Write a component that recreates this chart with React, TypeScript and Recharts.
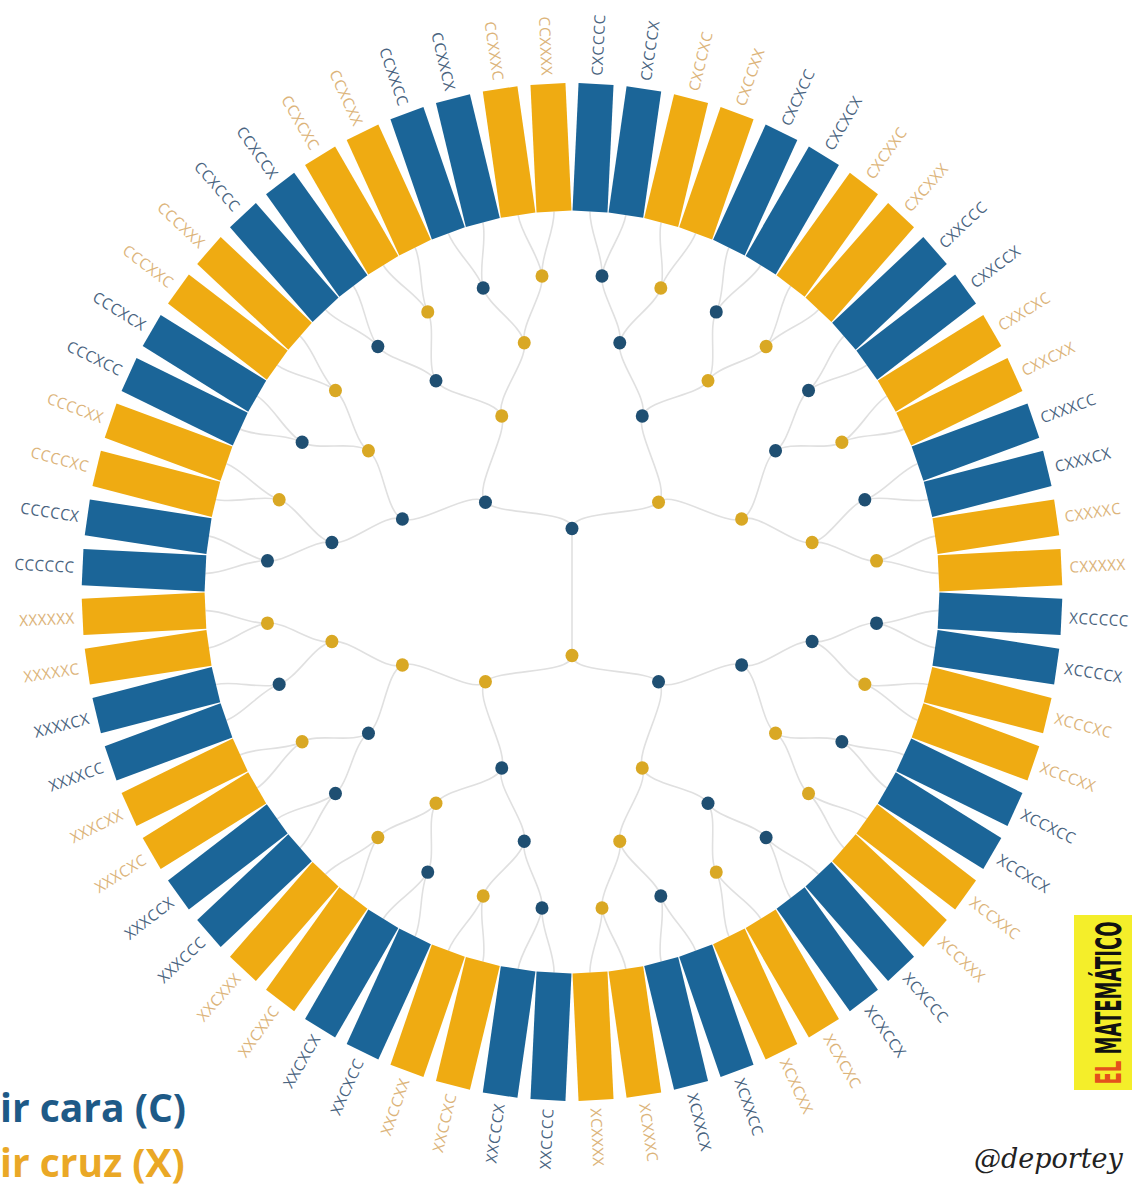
import { PieChart, Pie } from 'recharts'

// every outcome of six coin flips, in the order they run round the ring (clockwise from 9 o'clock)
const OUTCOMES = [
  'CCCCCC', 'CCCCCX', 'CCCCXC', 'CCCCXX', 'CCCXCC', 'CCCXCX', 'CCCXXC', 'CCCXXX',
  'CCXCCC', 'CCXCCX', 'CCXCXC', 'CCXCXX', 'CCXXCC', 'CCXXCX', 'CCXXXC', 'CCXXXX',
  'CXCCCC', 'CXCCCX', 'CXCCXC', 'CXCCXX', 'CXCXCC', 'CXCXCX', 'CXCXXC', 'CXCXXX',
  'CXXCCC', 'CXXCCX', 'CXXCXC', 'CXXCXX', 'CXXXCC', 'CXXXCX', 'CXXXXC', 'CXXXXX',
  'XCCCCC', 'XCCCCX', 'XCCCXC', 'XCCCXX', 'XCCXCC', 'XCCXCX', 'XCCXXC', 'XCCXXX',
  'XCXCCC', 'XCXCCX', 'XCXCXC', 'XCXCXX', 'XCXXCC', 'XCXXCX', 'XCXXXC', 'XCXXXX',
  'XXCCCC', 'XXCCCX', 'XXCCXC', 'XXCCXX', 'XXCXCC', 'XXCXCX', 'XXCXXC', 'XXCXXX',
  'XXXCCC', 'XXXCCX', 'XXXCXC', 'XXXCXX', 'XXXXCC', 'XXXXCX', 'XXXXXC', 'XXXXXX',
]
const TREE_DEPTHS = [1, 2, 3, 4, 5]
const LEGEND = ['ir cara (C)', 'ir cruz (X)']

const W = 1132
const H = 1189
const CX = 572
const CY = 592
const STEP = 61.2
const BAR_IN = 367
const BAR_OUT = 490
const BAR_W = 35
const RAD = Math.PI / 180

const BLUE = '#1b6598'
const GOLD = '#efab12'
const DOT_BLUE = '#1f4f72'
const DOT_GOLD = '#d9a824'
const LINK = '#e0e0e0'

const leafData = OUTCOMES.map((o) => ({ node: o, value: 1 }))
const treeData = TREE_DEPTHS.map((d) =>
  OUTCOMES.filter((_, i) => i % (OUTCOMES.length >> d) === 0).map((o) => ({ node: o.slice(0, d), value: 1 }))
)

const polar = (a: number, r: number) => [CX + r * Math.cos(a * RAD), CY - r * Math.sin(a * RAD)]

const pieBase = {
  cx: CX,
  cy: CY,
  dataKey: 'value',
  startAngle: 180,
  endAngle: -180,
  fill: 'transparent',
  stroke: 'none',
  labelLine: false,
  isAnimationActive: false,
}

// soft curved link from the parent node to this node
const renderLink = (depth: number) => (p: any) => {
  const r1 = depth === 6 ? BAR_IN : depth * STEP
  const r0 = (depth - 1) * STEP
  const a = p.midAngle
  if (depth === 1) {
    const [x, y] = polar(a, r1)
    return <line x1={CX} y1={CY} x2={x} y2={y} stroke={LINK} strokeWidth={1.6} />
  }
  const pa = p.index % 2 === 0 ? p.endAngle : p.startAngle
  const dr = r1 - r0
  const [x0, y0] = polar(pa, r0)
  const [c1x, c1y] = polar(pa, r0 + dr * 0.3)
  const [c2x, c2y] = polar(a, r1 - dr * 0.3)
  const [x1, y1] = polar(a, r1)
  return (
    <path
      d={`M${x0},${y0}C${c1x},${c1y} ${c2x},${c2y} ${x1},${y1}`}
      fill="none"
      stroke={LINK}
      strokeWidth={1.6}
    />
  )
}

const renderDot = (depth: number) => (p: any) => {
  const node: string = p.payload?.node ?? treeData[depth - 1][p.index].node
  const [x, y] = polar(p.midAngle, depth * STEP)
  return <circle cx={x} cy={y} r={6.5} fill={node.endsWith('C') ? DOT_BLUE : DOT_GOLD} />
}

const renderBar = (p: any) => {
  const code = OUTCOMES[p.index]
  const isC = code[4] === 'C'
  const right = Math.cos(p.midAngle * RAD) >= 0
  return (
    <g transform={`translate(${CX},${CY}) rotate(${-p.midAngle})`}>
      <rect x={BAR_IN} y={-BAR_W / 2} width={BAR_OUT - BAR_IN} height={BAR_W} fill={isC ? BLUE : GOLD} />
      <text
        transform={right ? undefined : 'rotate(180)'}
        x={right ? BAR_OUT + 8 : -(BAR_OUT + 8)}
        y={0}
        textAnchor={right ? 'start' : 'end'}
        dominantBaseline="central"
        fontFamily="'Open Sans', sans-serif"
        fontSize={15}
        letterSpacing={0.6}
        fill={isC ? '#4a6480' : '#dcb47a'}
      >
        {code}
      </text>
    </g>
  )
}

export default function App() {
  return (
    <div style={{ position: 'absolute', left: 0, top: 0, width: W, height: H, background: '#fff', overflow: 'hidden' }}>
      <div
        style={{
          position: 'absolute',
          left: 0,
          top: 0,
          transform: 'scaleY(1.038)',
          transformOrigin: `${CX}px ${CY}px`,
        }}
      >
        <PieChart width={W} height={H} margin={{ top: 0, right: 0, bottom: 0, left: 0 }}>
          {[1, 2, 3, 4, 5, 6].map((d) => (
            <Pie
              key={`link-${d}`}
              {...pieBase}
              data={d === 6 ? leafData : treeData[d - 1]}
              innerRadius={0}
              outerRadius={d === 6 ? BAR_IN : d * STEP}
              label={renderLink(d)}
            />
          ))}
          {TREE_DEPTHS.map((d) => (
            <Pie
              key={`dot-${d}`}
              {...pieBase}
              data={treeData[d - 1]}
              innerRadius={0}
              outerRadius={d * STEP}
              label={renderDot(d)}
            />
          ))}
          <Pie {...pieBase} data={leafData} innerRadius={BAR_IN} outerRadius={BAR_OUT} label={renderBar} />
        </PieChart>
      </div>

      <svg width={W} height={H} style={{ position: 'absolute', left: 0, top: 0, pointerEvents: 'none' }}>
        <text x={0} y={1122} fontFamily="'Open Sans', sans-serif" fontWeight={700} fontSize={39} fill="#1e5a87">
          {LEGEND[0]}
        </text>
        <text x={0} y={1177} fontFamily="'Open Sans', sans-serif" fontWeight={700} fontSize={39} fill="#eaa826">
          {LEGEND[1]}
        </text>

        <rect x={1074} y={915} width={58} height={175} fill="#f4ee2a" />
        <text
          transform="translate(1108,1003) rotate(-90)"
          textAnchor="middle"
          dominantBaseline="central"
          fontFamily="'DejaVu Sans Condensed', 'DejaVu Sans', sans-serif"
          fontWeight={700}
          fontSize={36}
          textLength={163}
          lengthAdjust="spacingAndGlyphs"
        >
          <tspan fill="#e4501c">EL </tspan>
          <tspan fill="#111">MATEMÁTICO</tspan>
        </text>

        <text x={974} y={1168} fontFamily="'DejaVu Serif', serif" fontStyle="italic" fontSize={27} fill="#222">
          @deportey
        </text>
      </svg>
    </div>
  )
}
